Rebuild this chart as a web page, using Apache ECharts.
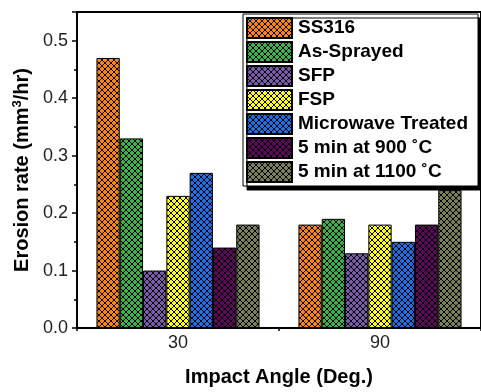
<!DOCTYPE html>
<html><head><meta charset="utf-8">
<script src="https://cdn.jsdelivr.net/npm/echarts@6/dist/echarts.min.js"></script>
<style>html,body{margin:0;padding:0;background:#fff}#c{width:481px;height:392px}</style>
</head><body><div id="c"></div>
<script>
const categories = ['30', '90'];
const seriesNames = ['SS316', 'As-Sprayed', 'SFP', 'FSP', 'Microwave Treated', '5 min at 900 \u02DAC', '5 min at 1100 \u02DAC'];
const ss316 = [0.47, 0.18];
const asSprayed = [0.33, 0.19];
const sfp = [0.10, 0.13];
const fsp = [0.23, 0.18];
const microwave = [0.27, 0.15];
const min900 = [0.14, 0.18];
const min1100 = [0.18, 0.24];
const yTicks = [0.0, 0.1, 0.2, 0.3, 0.4, 0.5];
const colors = ['#FF8214', '#3DB24A', '#7B5CAA', '#FFFF1E', '#1F6FE6', '#5A0A58', '#7B8157'];
const values = [ss316, asSprayed, sfp, fsp, microwave, min900, min1100];

function hatch(color) {
  const s = 12, p = 6;
  const cv = document.createElement('canvas');
  cv.width = s; cv.height = s;
  const g = cv.getContext('2d');
  g.fillStyle = color; g.fillRect(0, 0, s, s);
  g.strokeStyle = '#000'; g.lineWidth = 1.0;
  for (let c = -2 * s; c <= 2 * s; c += p) {
    g.beginPath(); g.moveTo(c - 2, -2); g.lineTo(c + s + 2, s + 2); g.stroke();
    g.beginPath(); g.moveTo(c + 2, -2); g.lineTo(c - s - 2, s + 2); g.stroke();
  }
  return { image: cv, repeat: 'repeat' };
}

const chart = echarts.init(document.getElementById('c'), null, { renderer: 'canvas' });
const font = 'Liberation Sans, Arial, Helvetica, sans-serif';
chart.setOption({
  animation: false,
  textStyle: { fontFamily: font },
  grid: { left: 77, top: 12, right: -4, bottom: 61, show: true, borderColor: '#000', borderWidth: 2, backgroundColor: 'transparent' },
  legend: {
    orient: 'vertical', left: 243, top: 14,
    icon: 'rect',
    itemWidth: 45, itemHeight: 20, itemGap: 2,
    padding: [3, 10, 3, 3],
    backgroundColor: '#fff', borderColor: '#000', borderWidth: 1,
    shadowColor: '#000', shadowOffsetX: 4, shadowOffsetY: 4, shadowBlur: 0,
    textStyle: { fontFamily: font, fontWeight: 'bold', fontSize: 19, color: '#000', padding: [0, 0, 0, 1] },
    data: seriesNames
  },
  xAxis: [{
    type: 'category', data: categories, position: 'bottom',
    axisLine: { lineStyle: { color: '#000', width: 2 } },
    axisTick: { alignWithLabel: true, length: 5, lineStyle: { color: '#000', width: 1.5 } },
    axisLabel: { color: '#222', fontSize: 18, margin: 6, fontFamily: font },
    name: 'Impact Angle (Deg.)', nameLocation: 'middle', nameGap: 39,
    nameTextStyle: { fontWeight: 'bold', fontSize: 20, color: '#000', fontFamily: font }
  }, {
    type: 'category', data: categories, position: 'bottom',
    axisLine: { show: false },
    axisTick: { show: true, length: 3, lineStyle: { color: '#000', width: 1.5 } },
    axisLabel: { show: false }
  }],
  yAxis: {
    type: 'value', min: 0, max: 0.55, interval: 0.1,
    axisLine: { show: true, lineStyle: { color: '#000', width: 2 } },
    axisTick: { show: true, length: 5, lineStyle: { color: '#000', width: 1.5 } },
    minorTick: { show: true, splitNumber: 2, length: 3, lineStyle: { color: '#000', width: 1.5 } },
    splitLine: { show: false },
    axisLabel: {
      color: '#222', fontSize: 18, margin: 9, fontFamily: font,
      formatter: v => yTicks.some(t => Math.abs(t - v) < 1e-9) ? v.toFixed(1) : ''
    },
    name: '{a|Erosion rate (mm}{s|3}{a|/hr)}', nameLocation: 'middle', nameGap: 42,
    nameTextStyle: {
      rich: {
        a: { fontWeight: 'bold', fontSize: 20, color: '#000', fontFamily: font },
        s: { fontWeight: 'bold', fontSize: 13, color: '#000', fontFamily: font, verticalAlign: 'top', padding: [0, 0, 9, 0] }
      }
    }
  },
  series: seriesNames.map((n, i) => ({
    name: n, type: 'bar', data: values[i], barWidth: 23.3, barGap: '0%',
    itemStyle: { color: hatch(colors[i]), borderColor: '#000', borderWidth: 1 }
  }))
});
</script></body></html>
